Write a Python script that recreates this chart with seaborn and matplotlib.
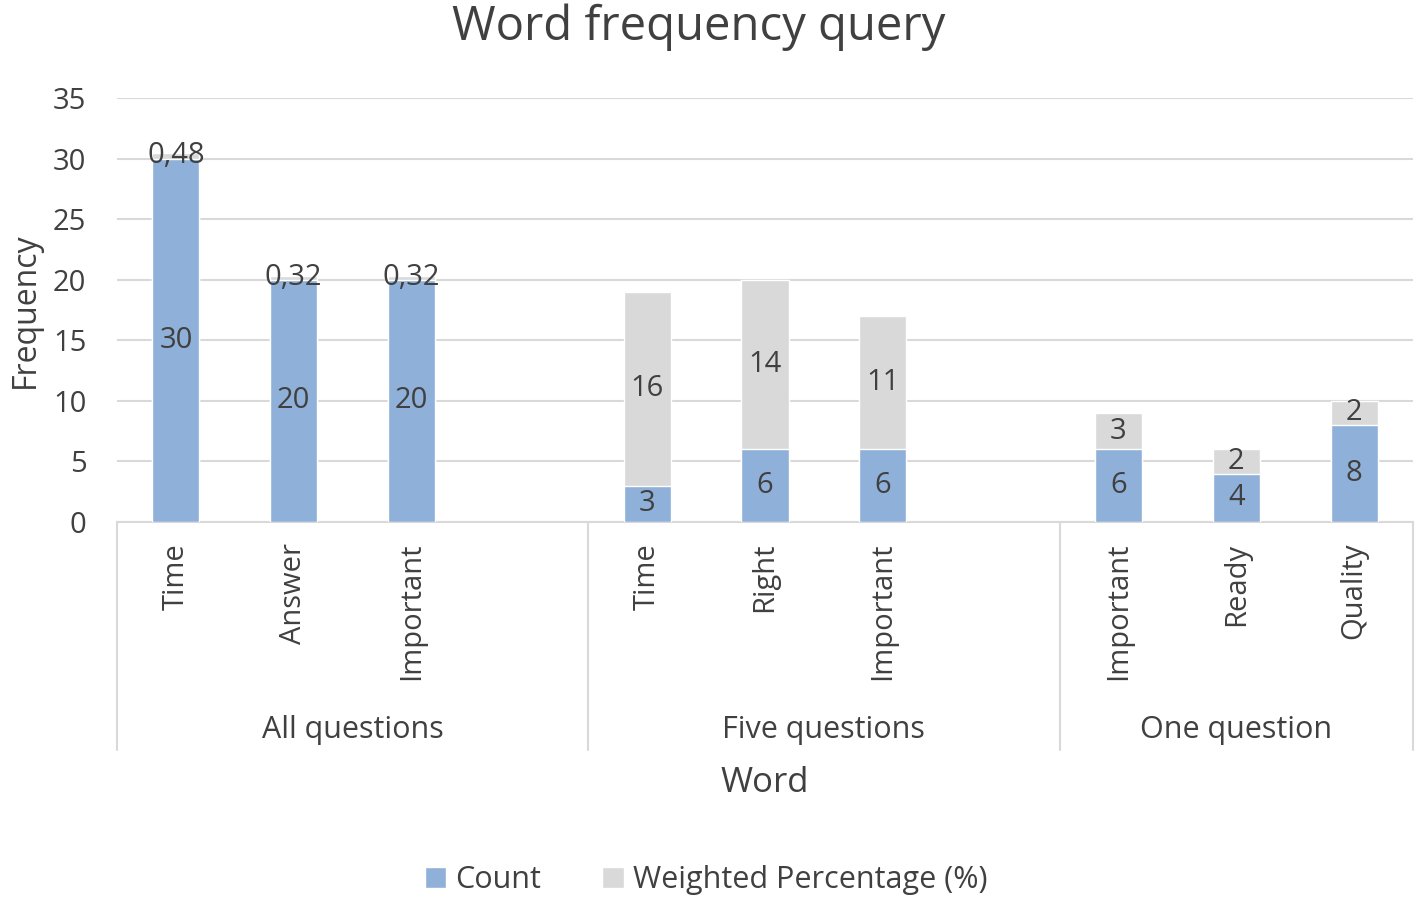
import matplotlib
matplotlib.use("Agg")
import matplotlib.pyplot as plt
from matplotlib.patches import Patch
from matplotlib.lines import Line2D
import matplotlib.transforms as mtransforms
import pandas as pd
import seaborn as sns

# data
groups = ["All questions", "Five questions", "One question"]
words = [["Time", "Answer", "Important"],
         ["Time", "Right", "Important"],
         ["Important", "Ready", "Quality"]]
counts = [[30, 20, 20], [3, 6, 6], [6, 4, 8]]
weighted = [[0.48, 0.32, 0.32], [16, 14, 11], [3, 2, 2]]

BLUE = "#8FB0D9"
GREY = "#D9D9D9"
TXT = "#404040"

rows = []
for g, ws, cs, ps in zip(groups, words, counts, weighted):
    for w, c, p in zip(ws, cs, ps):
        rows.append({"key": g + "|" + w, "group": g, "word": w,
                     "count": c, "weighted": p, "total": c + p})
df = pd.DataFrame(rows)

# one empty slot after the first two groups, as in the original
order = []
for i, g in enumerate(groups):
    order += list(df.loc[df.group == g, "key"])
    if i < len(groups) - 1:
        order.append("gap%d" % i)

sns.set_theme(style="white")
plt.rcParams["font.family"] = ["Open Sans", "DejaVu Sans"]
plt.rcParams["text.color"] = TXT

fig = plt.figure(figsize=(14.18, 9), dpi=100)
W, H = 1418, 900
ax = fig.add_axes([117 / W, (H - 522) / H, (1413 - 117) / W, (522 - 98) / H])

sns.barplot(data=df, x="key", y="total", order=order, color=GREY,
            width=0.4, saturation=1, ax=ax, zorder=2)
sns.barplot(data=df, x="key", y="count", order=order, color=BLUE,
            width=0.4, saturation=1, ax=ax, zorder=3)

ax.set_ylim(0, 35)
ax.set_yticks(range(0, 36, 5))
ax.yaxis.grid(True, color=GREY, linewidth=1.5, zorder=0)
ax.set_axisbelow(True)
for s in ["top", "right", "left"]:
    ax.spines[s].set_visible(False)
ax.spines["bottom"].set_color(GREY)
ax.spines["bottom"].set_linewidth(1.5)
ax.tick_params(axis="both", length=0, labelsize=21, colors=TXT)
ax.tick_params(axis="y", pad=22)

labels = []
for k in order:
    labels.append(df.loc[df.key == k, "word"].iloc[0] if k in set(df.key) else "")
ax.set_xticks(range(len(order)))
ax.set_xticklabels(labels, rotation=90, fontsize=21, color=TXT)
ax.tick_params(axis="x", pad=15)
ax.set_xlabel("Word", fontsize=25, color=TXT, labelpad=62)
ax.set_ylabel("Frequency", fontsize=23, color=TXT, labelpad=8)

def fmt(v):
    return ("%g" % v).replace(".", ",")

for _, r in df.iterrows():
    xi = order.index(r["key"])
    ax.text(xi, r["count"] / 2, fmt(r["count"]), ha="center", va="center",
            fontsize=21, color=TXT, zorder=5)
    ax.text(xi, r["count"] + r["weighted"] / 2, fmt(r["weighted"]),
            ha="center", va="center", fontsize=21, color=TXT, zorder=5)

# multi-level category axis: separators and group names
trans = mtransforms.blended_transform_factory(ax.transData, ax.transAxes)
ybot = (522 - 750) / (522 - 98)
bounds = [-0.5, 3.5, 7.5, len(order) - 0.5]
for b in bounds:
    ax.add_line(Line2D([b, b], [0, ybot], transform=trans, color=GREY,
                       linewidth=1.5, clip_on=False))
for g, lo, hi in zip(groups, bounds[:-1], bounds[1:]):
    ax.text((lo + hi) / 2, (522 - 730) / (522 - 98), g, transform=trans,
            ha="center", va="center", fontsize=22, color=TXT)

fig.suptitle("Word frequency query", x=0.493, y=1 - 27 / H, va="center",
             fontsize=34, color=TXT)

handles = [Patch(facecolor=BLUE, label="Count"),
           Patch(facecolor=GREY, label="Weighted Percentage (%)")]
fig.legend(handles=handles, loc="center", bbox_to_anchor=(0.498, 1 - 880 / H),
           ncol=2, frameon=False, fontsize=22, handlelength=0.7,
           handleheight=0.7, handletextpad=0.3, columnspacing=2.0,
           labelcolor=TXT)

fig.savefig("out.png", dpi=100)
